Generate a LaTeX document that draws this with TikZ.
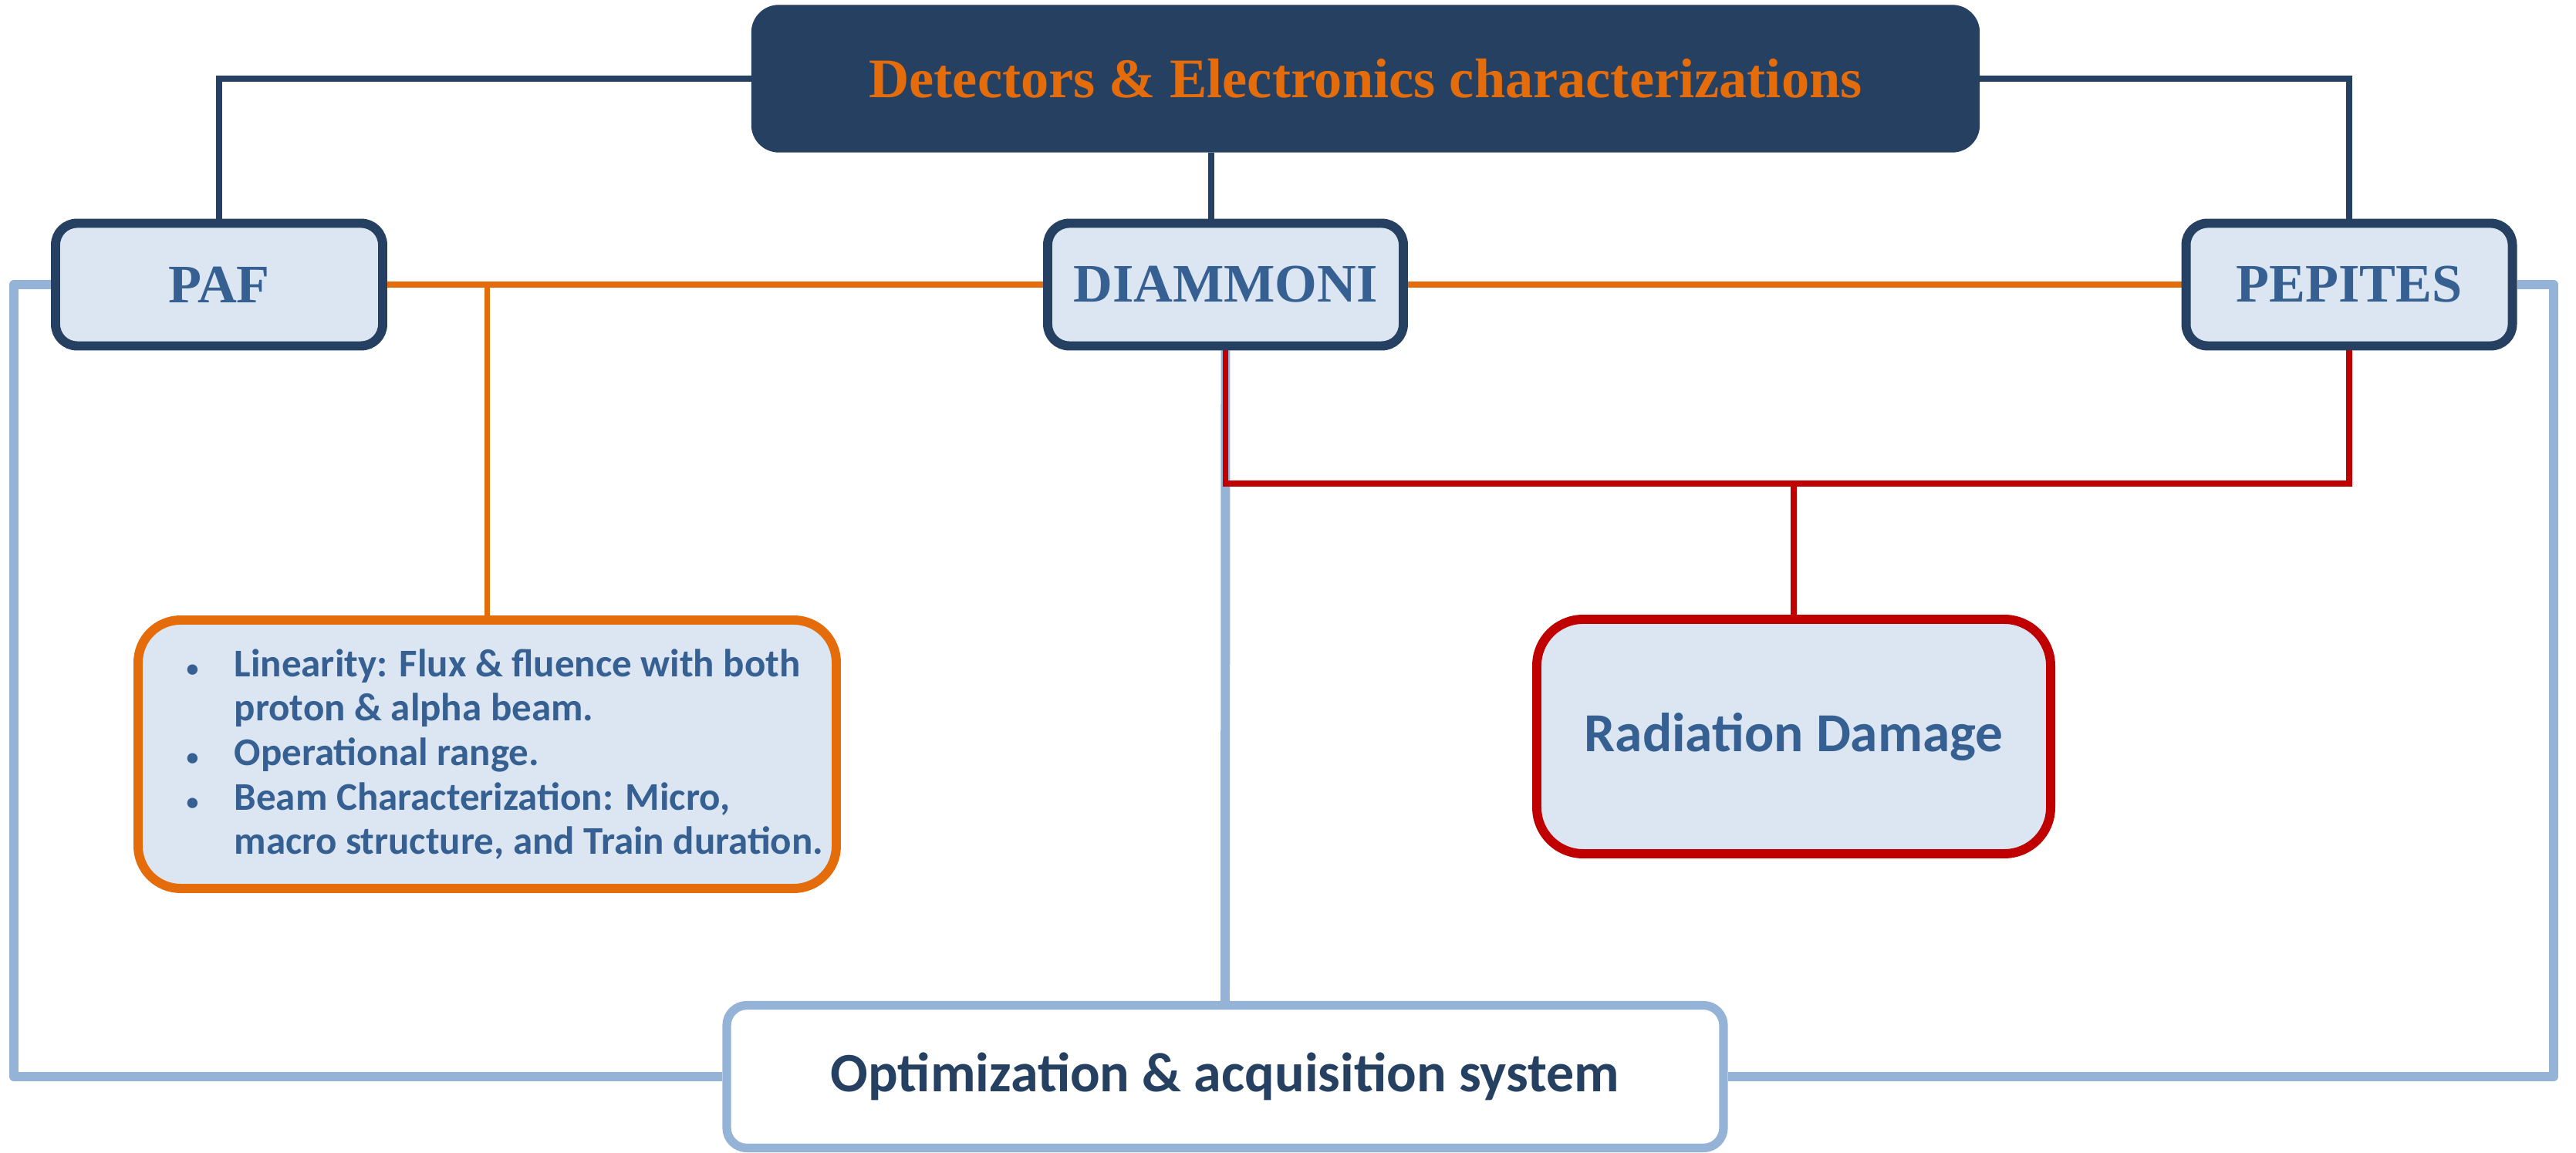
\documentclass[tikz,border=0pt]{standalone}
\usepackage{fontspec}
\setmainfont{Liberation Serif}
\newfontfamily\calibri{Carlito}
\usetikzlibrary{backgrounds}
\definecolor{navy}{HTML}{254061}
\definecolor{boxfill}{HTML}{DCE6F2}
\definecolor{boxtext}{HTML}{376092}
\definecolor{linkorange}{HTML}{E46C0A}
\definecolor{linkred}{HTML}{C00000}
\definecolor{linkblue}{HTML}{95B3D7}
\newcommand{\blt}{\makebox[0.62cm][l]{\small\textbullet}}
\newcommand{\bltgap}{\hspace*{0.62cm}}
\tikzset{
  titlebox/.style={draw=navy, fill=navy, text=linkorange, rounded corners=0.35cm,
    minimum width=15.91cm, minimum height=1.90cm, inner sep=0pt,
    font=\fontsize{20.6}{24}\selectfont\bfseries},
  projbox/.style={draw=navy, line width=3.4pt, fill=boxfill, text=boxtext,
    rounded corners=0.28cm, minimum height=1.59cm, inner sep=0pt,
    font=\fontsize{20}{24}\selectfont\bfseries},
  taskbox/.style={line width=3.4pt, fill=boxfill, text=boxtext, inner sep=0pt,
    font=\calibri\bfseries\fontsize{20.3}{24}\selectfont},
  optbox/.style={draw=linkblue, line width=3.2pt, fill=white, text=navy,
    rounded corners=0.26cm, minimum width=12.92cm, minimum height=1.85cm, inner sep=0pt,
    font=\calibri\bfseries\fontsize{20.5}{24}\selectfont},
  navylink/.style={draw=navy, line width=2.2pt},
  orangelink/.style={draw=linkorange, line width=2.1pt},
  redlink/.style={draw=linkred, line width=2.2pt},
  bluelink/.style={draw=linkblue, line width=3.4pt, line join=round}
}
\begin{document}
\begin{tikzpicture}
\useasboundingbox (0,0) rectangle (33.39,14.95);
% title
\node[titlebox] (title) at (17.70,13.93) {Detectors \& Electronics characterizations};
% projects
\node[projbox, minimum width=4.24cm] (paf) at (2.84,11.26) {PAF};
\node[projbox, minimum width=4.61cm] (diam) at (15.885,11.26) {DIAMMONI};
\node[projbox, minimum width=4.23cm] (pep) at (30.45,11.26) {PEPITES};
% tasks
\node[taskbox, draw=linkorange, rounded corners=0.55cm, minimum width=9.05cm,
  minimum height=3.48cm] (lin) at (6.315,5.17) {};
\node[anchor=west, align=left, inner sep=0pt, text=boxtext,
  font=\calibri\bfseries\fontsize{14.5}{16.4}\selectfont]
  (lintext) at ([xshift=0.68cm]lin.west)
  {\blt Linearity: Flux \& fluence with both\\
   \bltgap proton \& alpha beam.\\
   \blt Operational range.\\
   \blt Beam Characterization: Micro,\\
   \bltgap macro structure, and Train duration.};
\node[taskbox, draw=linkred, rounded corners=0.6cm, minimum width=6.66cm,
  minimum height=3.04cm] (rad) at (23.25,5.40) {Radiation Damage};
\node[optbox] (opt) at (15.88,0.99) {Optimization \& acquisition system};
% links
\begin{scope}[on background layer]
\draw[navylink] (title.west) -| (paf.north);
\draw[navylink] (title.east) -| (pep.north);
\draw[navylink] ([xshift=-0.185cm]diam.north) -- ([xshift=-0.185cm]diam.north |- title.south);
\draw[orangelink] (paf.east) -- (diam.west);
\draw[orangelink] (diam.east) -- (pep.west);
\draw[orangelink] (lin.north) -- (lin.north |- paf.east);
\draw[bluelink] (paf.west) -- ++(-0.48,0) |- (opt.west);
\draw[bluelink] (pep.east) -- ++(0.475,0) |- (opt.east);
\draw[bluelink] (diam.south) -- (opt.north);
\coordinate (redjoin) at (15.885,8.68);
\draw[redlink] (diam.south) -- (redjoin) -| (pep.south);
\draw[redlink] (rad.north) -- (rad.north |- redjoin);
\end{scope}
\end{tikzpicture}
\end{document}
